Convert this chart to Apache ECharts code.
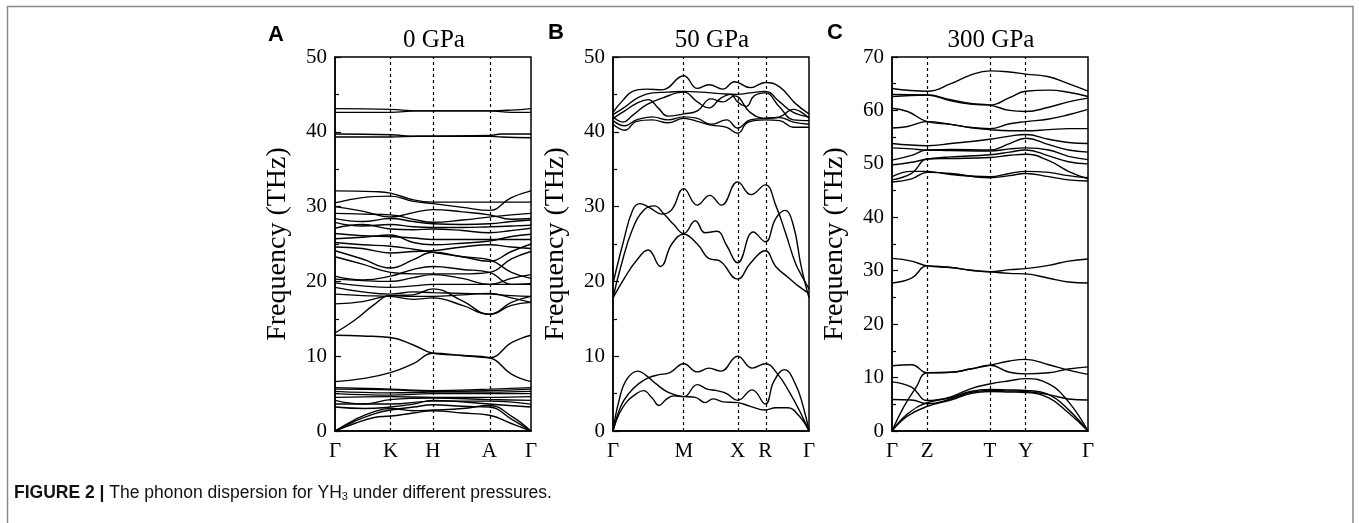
<!DOCTYPE html>
<html>
<head>
<meta charset="utf-8">
<title>YH3 phonon dispersion</title>
<script src="https://cdn.jsdelivr.net/npm/echarts@6.0.0/dist/echarts.min.js"></script>
<style>
  html, body { margin: 0; padding: 0; background: #fff; }
  #chart { width: 1359px; height: 523px; }
</style>
</head>
<body>
<div id="chart"></div>
<script>
// ---- data: high-symmetry paths (fractional path length) ----
const pathA = ["Γ", "K", "H", "A", "Γ"];
const kA = [0, 0.283, 0.499, 0.788, 1];
const pathB = ["Γ", "M", "X", "R", "Γ"];
const kB = [0, 0.361, 0.636, 0.777, 1];
const pathC = ["Γ", "Z", "T", "Y", "Γ"];
const kC = [0, 0.18, 0.499, 0.682, 1];

const yTicksA = [0, 10, 20, 30, 40, 50];
const yTicksB = [0, 10, 20, 30, 40, 50];
const yTicksC = [0, 10, 20, 30, 40, 50, 60, 70];

// ---- 0 GPa bands (THz) ----
const bandsA_top = [
  [[0,43.1],[0.283,43.0],[0.42,42.8],[0.499,42.8],[0.788,42.8],[0.9,42.9],[1,43.1]],
  [[0,42.6],[0.283,42.6],[0.42,42.8],[0.499,42.8],[0.788,42.8],[0.9,42.6],[1,42.6]],
  [[0,39.7],[0.283,39.6],[0.42,39.4],[0.788,39.5],[0.85,39.7],[1,39.7]],
  [[0,39.3],[0.283,39.3],[0.42,39.4],[0.788,39.4],[0.85,39.3],[1,39.2]]
];
const bandsA_mid = [
  [[0,32.1],[0.2,32.0],[0.283,31.8],[0.4,30.9],[0.499,30.6],[0.65,30.6],[0.788,30.6],[0.9,30.6],[1,30.6]],
  [[0,30.5],[0.14,31.2],[0.283,31.4],[0.4,30.7],[0.499,30.4],[0.65,29.9],[0.788,29.5],[0.9,31.2],[1,32.1]],
  [[0,30.0],[0.14,29.4],[0.283,28.6],[0.4,29.2],[0.499,29.6],[0.65,29.3],[0.788,28.9],[0.9,28.3],[1,28.4]],
  [[0,29.1],[0.14,29.0],[0.283,28.9],[0.4,28.3],[0.499,27.9],[0.65,28.2],[0.788,28.6],[0.9,28.9],[1,29.1]],
  [[0,28.4],[0.14,28.0],[0.283,28.4],[0.4,28.0],[0.499,27.7],[0.65,27.6],[0.788,27.7],[0.9,28.0],[1,28.2]],
  [[0,27.9],[0.14,27.4],[0.283,27.6],[0.4,27.3],[0.499,27.2],[0.65,27.2],[0.788,27.3],[0.9,27.4],[1,27.5]],
  [[0,27.1],[0.14,27.6],[0.283,27.0],[0.4,26.9],[0.499,27.0],[0.65,26.8],[0.788,26.5],[0.9,26.8],[1,27.1]],
  [[0,26.4],[0.14,26.1],[0.283,26.0],[0.4,25.8],[0.499,25.6],[0.65,25.6],[0.788,25.6],[0.9,25.6],[1,25.6]],
  [[0,25.7],[0.14,25.9],[0.283,26.2],[0.4,25.2],[0.499,24.9],[0.65,25.1],[0.788,25.4],[0.9,26.0],[1,26.3]],
  [[0,25.2],[0.14,24.9],[0.283,24.7],[0.4,24.3],[0.499,23.9],[0.65,23.3],[0.788,22.7],[0.9,24.0],[1,25.0]],
  [[0,24.6],[0.14,24.4],[0.283,23.8],[0.4,24.0],[0.499,24.1],[0.65,24.6],[0.788,24.9],[0.9,24.6],[1,24.4]],
  [[0,24.1],[0.14,23.0],[0.283,21.8],[0.4,22.9],[0.499,23.9],[0.65,23.3],[0.788,22.9],[0.9,21.2],[1,20.4]],
  [[0,23.3],[0.14,22.3],[0.283,21.2],[0.4,21.0],[0.499,21.0],[0.65,21.0],[0.788,21.2],[0.9,23.0],[1,24.0]],
  [[0,20.7],[0.14,20.2],[0.283,20.7],[0.4,21.6],[0.499,22.0],[0.65,21.6],[0.788,21.2],[0.9,19.6],[1,19.6]],
  [[0,20.3],[0.14,20.1],[0.283,20.0],[0.4,20.5],[0.499,20.9],[0.65,20.4],[0.788,19.6],[0.9,20.4],[1,20.9]],
  [[0,19.8],[0.14,19.4],[0.283,19.2],[0.4,19.4],[0.499,19.6],[0.65,19.6],[0.788,19.6],[0.9,19.6],[1,19.7]],
  [[0,19.2],[0.14,18.6],[0.283,18.3],[0.4,18.6],[0.499,18.5],[0.65,18.4],[0.788,18.3],[0.9,18.1],[1,18.0]],
  [[0,18.3],[0.14,18.1],[0.283,18.0],[0.4,17.6],[0.499,17.8],[0.65,16.8],[0.788,15.6],[0.9,16.8],[1,17.2]],
  [[0,17.0],[0.14,17.3],[0.283,18.1],[0.4,18.2],[0.499,19.0],[0.65,17.4],[0.788,15.6],[0.9,17.2],[1,18.0]],
  [[0,13.1],[0.1,14.8],[0.2,16.9],[0.283,18.1],[0.4,18.0],[0.499,18.0],[0.65,18.2],[0.788,18.4],[0.9,17.8],[1,17.2]]
];
const bandsA_low = [
  [[0,12.8],[0.14,12.7],[0.283,12.5],[0.4,11.5],[0.499,10.4],[0.65,10.1],[0.788,9.8],[0.9,11.8],[1,12.8]],
  [[0,6.6],[0.14,7.0],[0.283,7.8],[0.4,9.0],[0.499,10.4],[0.65,10.1],[0.788,9.8],[0.9,7.6],[1,6.6]],
  [[0,5.8],[0.283,5.6],[0.499,5.4],[0.788,5.6],[1,5.8]],
  [[0,5.6],[0.283,5.5],[0.499,5.3],[0.788,5.4],[1,5.6]],
  [[0,5.3],[0.283,5.1],[0.499,5.2],[0.788,5.2],[1,5.3]],
  [[0,5.0],[0.283,4.8],[0.499,5.0],[0.788,5.0],[1,5.0]],
  [[0,4.5],[0.283,4.6],[0.499,4.5],[0.788,4.5],[1,4.6]],
  [[0,4.1],[0.15,3.6],[0.283,4.2],[0.499,4.4],[0.788,4.2],[1,4.1]],
  [[0,3.6],[0.283,3.6],[0.499,4.0],[0.788,4.0],[1,3.6]],
  [[0,3.2],[0.15,3.0],[0.283,3.2],[0.4,3.6],[0.499,4.1],[0.788,3.6],[1,3.2]],
  [[0,0],[0.1,1.5],[0.2,2.6],[0.283,3.0],[0.4,2.7],[0.499,2.8],[0.65,3.0],[0.788,3.4],[0.9,2.0],[1,0]],
  [[0,0],[0.1,1.3],[0.2,2.3],[0.283,2.8],[0.4,3.2],[0.499,3.5],[0.65,3.3],[0.788,3.2],[0.9,1.6],[1,0]],
  [[0,0],[0.1,1.0],[0.2,1.8],[0.283,2.0],[0.4,2.4],[0.499,2.7],[0.65,2.4],[0.788,2.1],[0.9,1.0],[1,0]]
];

// ---- 50 GPa bands ----
const bandsB_top = [
  [[0,42.6],[0.05,44.2],[0.1,45.4],[0.17,45.7],[0.25,45.6],[0.361,47.5],[0.43,45.8],[0.49,46.3],[0.56,45.7],[0.62,46.7],[0.7,45.9],[0.777,46.6],[0.85,46.0],[0.93,43.8],[1,42.4]],
  [[0,42.3],[0.06,43.3],[0.13,44.6],[0.2,45.2],[0.28,45.3],[0.361,45.4],[0.45,45.3],[0.55,45.1],[0.636,45.0],[0.7,45.2],[0.777,45.4],[0.85,44.0],[0.92,42.6],[1,42.0]],
  [[0,42.0],[0.05,41.3],[0.1,42.2],[0.17,43.6],[0.25,44.5],[0.361,45.3],[0.43,44.0],[0.49,43.2],[0.55,44.5],[0.6,45.0],[0.636,44.0],[0.68,43.4],[0.72,44.8],[0.777,45.2],[0.85,43.3],[0.92,41.6],[1,41.5]],
  [[0,41.8],[0.06,42.8],[0.12,43.8],[0.18,44.3],[0.23,43.2],[0.28,42.1],[0.361,42.4],[0.43,42.8],[0.5,44.4],[0.56,44.0],[0.62,44.8],[0.7,42.6],[0.777,41.8],[0.85,42.0],[0.92,43.0],[1,41.8]],
  [[0,41.5],[0.06,40.8],[0.12,41.6],[0.2,42.0],[0.28,41.6],[0.361,42.0],[0.43,41.8],[0.5,41.0],[0.58,41.6],[0.636,40.5],[0.7,41.6],[0.777,41.8],[0.85,41.9],[0.92,41.3],[1,41.0]],
  [[0,41.0],[0.06,40.2],[0.12,41.4],[0.2,41.6],[0.28,41.2],[0.361,41.8],[0.43,41.4],[0.5,40.9],[0.58,40.6],[0.636,39.8],[0.69,41.3],[0.777,41.6],[0.85,41.5],[0.92,40.6],[1,40.6]]
];
const bandsB_mid = [
  [[0,19.7],[0.05,25.0],[0.1,29.5],[0.136,30.4],[0.19,29.8],[0.25,29.0],[0.3,29.6],[0.361,32.4],[0.43,30.2],[0.494,31.5],[0.553,30.2],[0.636,33.3],[0.704,31.6],[0.777,32.9],[0.83,30.2],[0.88,26.5],[0.93,22.5],[0.97,20.4],[1,19.0]],
  [[0,17.8],[0.04,22.0],[0.1,27.0],[0.16,29.6],[0.211,30.1],[0.26,29.0],[0.31,27.6],[0.361,26.4],[0.42,28.1],[0.47,26.5],[0.53,26.7],[0.58,24.8],[0.636,22.5],[0.716,26.6],[0.777,25.3],[0.83,28.4],[0.877,29.5],[0.92,27.5],[0.96,22.0],[1,17.8]],
  [[0,17.8],[0.06,20.5],[0.12,22.8],[0.179,24.2],[0.242,22.0],[0.3,25.0],[0.361,26.3],[0.43,25.0],[0.494,23.0],[0.54,22.8],[0.636,20.3],[0.7,22.4],[0.777,24.1],[0.83,22.0],[0.9,20.4],[0.95,19.3],[1,18.4]]
];
const bandsB_low = [
  [[0,0],[0.03,2.2],[0.07,3.9],[0.12,5.0],[0.155,5.4],[0.2,4.4],[0.235,3.4],[0.27,4.2],[0.31,4.7],[0.361,4.6],[0.42,4.5],[0.47,3.8],[0.51,4.3],[0.56,3.9],[0.636,3.8],[0.7,3.3],[0.777,2.8],[0.83,3.1],[0.89,3.1],[0.95,2.0],[1,0]],
  [[0,0],[0.04,3.3],[0.08,5.0],[0.13,6.3],[0.18,7.1],[0.23,7.5],[0.29,7.8],[0.361,9.0],[0.43,7.9],[0.49,8.4],[0.55,8.0],[0.636,10.0],[0.71,8.4],[0.777,9.0],[0.84,7.6],[0.9,5.2],[0.95,2.8],[1,0]],
  [[0,0],[0.03,4.0],[0.07,6.9],[0.128,8.0],[0.17,7.4],[0.22,6.3],[0.28,5.2],[0.361,4.6],[0.43,6.2],[0.48,5.6],[0.53,5.4],[0.58,5.0],[0.636,4.1],[0.71,5.5],[0.777,3.6],[0.82,6.6],[0.875,8.2],[0.93,6.3],[0.97,3.3],[1,0]]
];

// ---- 300 GPa bands ----
const bandsC_top = [
  [[0,64.1],[0.18,63.6],[0.3,65.0],[0.4,66.6],[0.499,67.4],[0.6,67.2],[0.682,66.8],[0.8,66.3],[0.9,65.0],[1,63.6]],
  [[0,63.0],[0.18,62.9],[0.3,61.8],[0.4,61.2],[0.499,61.0],[0.6,62.4],[0.682,63.6],[0.8,63.8],[0.9,63.4],[1,62.6]],
  [[0,62.6],[0.18,62.9],[0.3,62.0],[0.4,61.3],[0.499,61.0],[0.6,60.0],[0.682,59.8],[0.8,60.6],[0.9,61.6],[1,62.3]],
  [[0,60.4],[0.08,59.8],[0.18,57.9],[0.3,57.4],[0.4,56.8],[0.499,56.6],[0.6,57.5],[0.682,57.9],[0.8,58.4],[0.9,59.2],[1,60.2]],
  [[0,56.7],[0.08,57.0],[0.18,57.9],[0.3,57.4],[0.4,56.8],[0.499,56.4],[0.6,56.2],[0.682,56.2],[0.8,56.4],[0.9,56.6],[1,56.6]],
  [[0,53.8],[0.18,53.4],[0.3,53.8],[0.499,54.6],[0.6,55.2],[0.682,55.5],[0.8,54.6],[0.9,54.0],[1,53.8]],
  [[0,53.0],[0.1,52.8],[0.18,52.6],[0.3,52.7],[0.499,52.6],[0.6,53.8],[0.682,54.8],[0.8,53.6],[0.9,52.6],[1,52.2]],
  [[0,50.7],[0.1,51.6],[0.18,52.6],[0.3,52.5],[0.499,52.4],[0.6,52.8],[0.682,53.0],[0.8,52.6],[0.9,51.4],[1,50.8]],
  [[0,49.8],[0.1,50.3],[0.18,50.9],[0.3,51.3],[0.499,51.7],[0.6,52.2],[0.682,52.6],[0.8,51.5],[0.9,50.4],[1,50.0]],
  [[0,47.6],[0.1,48.6],[0.18,48.6],[0.3,48.0],[0.499,47.6],[0.6,48.2],[0.682,48.6],[0.8,48.4],[0.9,47.8],[1,47.4]],
  [[0,47.0],[0.1,48.2],[0.18,50.9],[0.3,51.0],[0.499,51.2],[0.6,51.6],[0.682,51.8],[0.8,50.6],[0.9,48.6],[1,47.2]],
  [[0,46.6],[0.1,47.2],[0.18,48.4],[0.3,48.2],[0.499,47.4],[0.6,47.8],[0.682,48.2],[0.8,47.6],[0.9,47.0],[1,46.8]]
];
const bandsC_mid = [
  [[0,32.3],[0.1,31.8],[0.18,30.9],[0.3,30.6],[0.4,30.1],[0.499,29.8],[0.6,30.2],[0.682,30.4],[0.8,31.0],[0.9,31.8],[1,32.2]],
  [[0,27.7],[0.1,28.6],[0.18,30.9],[0.3,30.6],[0.4,30.1],[0.499,29.8],[0.6,29.5],[0.682,29.4],[0.8,28.6],[0.9,27.9],[1,27.7]]
];
const bandsC_low = [
  [[0,12.2],[0.1,12.4],[0.18,10.9],[0.3,11.0],[0.4,11.6],[0.499,12.3],[0.6,13.1],[0.682,13.4],[0.8,12.4],[0.9,11.4],[1,10.6]],
  [[0,0],[0.06,4.5],[0.12,8.0],[0.18,10.9],[0.3,11.0],[0.4,11.6],[0.499,12.3],[0.6,11.0],[0.682,10.7],[0.8,10.9],[0.9,11.6],[1,12.0]],
  [[0,9.2],[0.1,8.2],[0.18,5.7],[0.3,6.4],[0.4,7.9],[0.499,8.8],[0.6,9.4],[0.682,9.8],[0.8,8.8],[0.9,5.5],[1,0]],
  [[0,0],[0.08,3.2],[0.18,5.3],[0.3,6.2],[0.4,7.4],[0.499,7.8],[0.6,7.7],[0.682,7.6],[0.8,6.8],[0.9,4.0],[1,0]],
  [[0,0],[0.08,2.8],[0.18,4.6],[0.3,5.8],[0.4,7.0],[0.499,7.4],[0.6,7.3],[0.682,7.2],[0.8,6.2],[0.9,3.4],[1,0]],
  [[0,5.9],[0.1,5.8],[0.18,5.1],[0.3,6.0],[0.4,7.2],[0.499,7.6],[0.6,7.5],[0.682,7.4],[0.8,6.8],[0.9,6.0],[1,5.8]]
];

const panels = [
  { path: pathA, k: kA, ticks: yTicksA, bands: [...bandsA_top, ...bandsA_mid, ...bandsA_low] },
  { path: pathB, k: kB, ticks: yTicksB, bands: [...bandsB_top, ...bandsB_mid, ...bandsB_low] },
  { path: pathC, k: kC, ticks: yTicksC, bands: [...bandsC_top, ...bandsC_mid, ...bandsC_low] }
];

const serif = "'Liberation Serif', 'DejaVu Serif', serif";
const sans = "'Liberation Sans', Arial, sans-serif";
const gridLefts = [335, 613, 892];

const options = {
  animation: false,
  grid: gridLefts.map((l) => ({
    left: l,
    top: 57,
    width: 196,
    height: 374,
    show: true,
    borderColor: "#000",
    borderWidth: 1.5,
    backgroundColor: "transparent",
  })),
  xAxis: panels.map((p, i) => ({
    type: "value",
    gridIndex: i,
    min: 0,
    max: 1,
    axisLine: { show: true, lineStyle: { color: "#000", width: 1.5 } },
    axisTick: { show: false },
    splitLine: { show: false },
    axisLabel: {
      customValues: p.k,
      color: "#000",
      fontFamily: serif,
      fontSize: 21,
      margin: 10,
      formatter: (v) => {
        const idx = p.k.findIndex((x) => Math.abs(x - v) < 1e-6);
        return idx >= 0 ? p.path[idx] : "";
      },
    },
  })),
  yAxis: panels.map((p, i) => ({
    type: "value",
    gridIndex: i,
    min: 0,
    max: p.ticks[p.ticks.length - 1],
    interval: 10,
    axisLine: { show: true, lineStyle: { color: "#000", width: 1.5 } },
    axisTick: { show: true, inside: true, length: 6, lineStyle: { color: "#000", width: 1.2 } },
    minorTick: { show: true, splitNumber: 2, length: 4, lineStyle: { color: "#000", width: 1.2 } },
    splitLine: { show: false },
    axisLabel: { color: "#000", fontFamily: serif, fontSize: 21, margin: 8 },
    name: "Frequency (THz)",
    nameLocation: "middle",
    nameGap: 43,
    nameTextStyle: { color: "#000", fontFamily: serif, fontSize: 28 },
  })),
  series: [],
  graphic: [
    {
      type: "rect",
      shape: { x: 7.5, y: 6.5, width: 1345.5, height: 600 },
      style: { fill: "none", stroke: "#8a8a8a", lineWidth: 1.5 },
      silent: true,
    },
    { type: "text", x: 276, y: 35, style: { text: "A", font: "bold 22px " + sans, fill: "#000", align: "center", verticalAlign: "middle" } },
    { type: "text", x: 556, y: 33, style: { text: "B", font: "bold 22px " + sans, fill: "#000", align: "center", verticalAlign: "middle" } },
    { type: "text", x: 835, y: 33, style: { text: "C", font: "bold 22px " + sans, fill: "#000", align: "center", verticalAlign: "middle" } },
    { type: "text", x: 434, y: 40, style: { text: "0 GPa", font: "25px " + serif, fill: "#000", align: "center", verticalAlign: "middle" } },
    { type: "text", x: 712, y: 40, style: { text: "50 GPa", font: "25px " + serif, fill: "#000", align: "center", verticalAlign: "middle" } },
    { type: "text", x: 991, y: 40, style: { text: "300 GPa", font: "25px " + serif, fill: "#000", align: "center", verticalAlign: "middle" } },
    {
      type: "text",
      x: 14,
      y: 493,
      style: {
        text: "{b|FIGURE 2 |} The phonon dispersion for YH{s|3} under different pressures.",
        font: "17.5px " + sans,
        fill: "#111",
        verticalAlign: "middle",
        rich: {
          b: { fontWeight: "bold", fontSize: 17.5, fontFamily: sans, fill: "#111" },
          s: { fontSize: 11, fontFamily: sans, verticalAlign: "bottom", fill: "#111" },
        },
      },
    },
  ],
};

panels.forEach((p, i) => {
  p.bands.forEach((band, j) => {
    const s = {
      type: "line",
      xAxisIndex: i,
      yAxisIndex: i,
      data: band,
      smooth: 0.45,
      symbol: "none",
      silent: true,
      lineStyle: { color: "#000", width: 1.4 },
    };
    if (j === 0) {
      // 高对称点处的虚线
      s.markLine = {
        silent: true,
        symbol: ["none", "none"],
        label: { show: false },
        lineStyle: { color: "#000", width: 1.2, type: [3, 3] },
        data: p.k.slice(1, -1).map((x) => ({ xAxis: x })),
      };
    }
    options.series.push(s);
  });
});

const chart = echarts.init(document.getElementById("chart"));
chart.setOption(options);

window.addEventListener("resize", () => {
  chart.resize();
});
</script>
</body>
</html>
